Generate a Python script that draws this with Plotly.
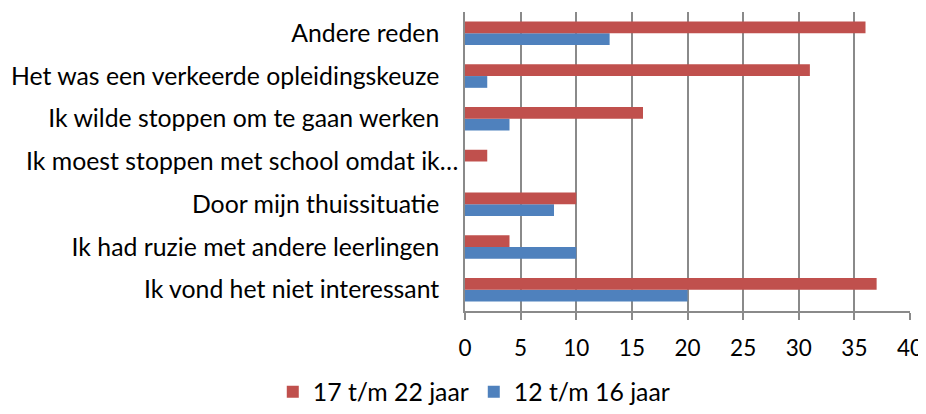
import plotly.graph_objects as go

categories = [
    "Ik vond het niet interessant",
    "Ik had ruzie met andere leerlingen",
    "Door mijn thuissituatie",
    "Ik moest stoppen met school omdat ik…",
    "Ik wilde stoppen om te gaan werken",
    "Het was een verkeerde opleidingskeuze",
    "Andere reden",
]
series_17_22 = [37, 4, 10, 2, 16, 31, 36]
series_12_16 = [20, 10, 8, 0, 4, 2, 13]
name_17_22 = "17 t/m 22 jaar"
name_12_16 = "12 t/m 16 jaar"
x_ticks = [0, 5, 10, 15, 20, 25, 30, 35, 40]

FONT = "Lato"
FS = 24.8
GRID = "#8a8a8a"
RED = "#C0504D"
BLUE = "#4F81BD"
pad = "\u00a0" * 3
ticktext = [c if c.endswith("…") else c + pad for c in categories]

fig = go.Figure()
fig.add_trace(go.Bar(y=categories, x=series_12_16, name=name_12_16, orientation="h",
                     marker=dict(color=BLUE, line=dict(width=0)), legendrank=2))
fig.add_trace(go.Bar(y=categories, x=series_17_22, name=name_17_22, orientation="h",
                     marker=dict(color=RED, line=dict(width=0)), legendrank=1))

# the page body adds an ~8px offset, so margins are shifted to compensate
fig.update_layout(
    width=926, height=414,
    margin=dict(l=457, r=24, t=4, b=111, autoexpand=False),
    paper_bgcolor="white", plot_bgcolor="white",
    barmode="group", bargap=0.45, bargroupgap=0,
    font=dict(family=FONT, size=FS, color="black"),
    showlegend=True,
    legend=dict(orientation="h", x=0.503, xanchor="center", xref="container",
                y=-0.271, yanchor="middle", font=dict(size=FS),
                itemwidth=30, tracegroupgap=0),
    xaxis=dict(range=[0, 40], tickvals=x_ticks, ticktext=[str(v) for v in x_ticks],
               tickfont=dict(size=22.5),
               showgrid=True, gridcolor=GRID, gridwidth=1.5,
               showline=True, linecolor=GRID, linewidth=1.5,
               ticks="outside", ticklen=7, tickcolor=GRID, tickwidth=1.5,
               ticklabelstandoff=9, zeroline=False, fixedrange=True, automargin=False),
    yaxis=dict(categoryorder="array", categoryarray=categories,
               tickvals=categories, ticktext=ticktext,
               showline=True, linecolor=GRID, linewidth=1.5,
               ticks="", ticklabelstandoff=0, showgrid=False, fixedrange=True,
               automargin=False),
)

fig.write_html("out.html")
